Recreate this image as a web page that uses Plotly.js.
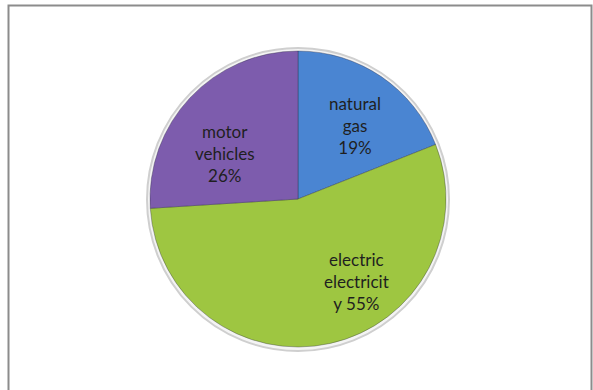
<!DOCTYPE html>
<html>
<head>
<meta charset="utf-8">
<script src="https://cdn.plot.ly/plotly-3.0.1.min.js"></script>
<style>
  html, body { margin: 0; padding: 0; background: #ffffff; }
  #chart { width: 593px; height: 390px; }
</style>
</head>
<body>
<div id="chart"></div>
<script>
// Energy use by source, share of total
const categories = ['natural gas', 'electric electricity', 'motor vehicles'];
const shares = [19, 55, 26];
// Slice label text as it wraps inside each slice (percentage appended from the data)
const labelLines = ['natural<br>gas<br>', 'electric<br>electricit<br>y ', 'motor<br>vehicles<br>'];
const sliceColors = ['#4a85d2', '#9ec641', '#7d5cad'];

const W = 593, H = 390;
const cx = 298, cy = 199, r = 148;

// label placement inside each slice: angular shift from the bisector (deg) and radial fraction
const labelShift = [3.4, -22.7, -11.0];
const labelDist = [0.63, 0.68, 0.58];

const total = shares.reduce((a, b) => a + b, 0);
const annotations = [];
let cum = 0;
shares.forEach((v, i) => {
  const mid = (cum + v / 2) / total * 360 + labelShift[i];
  cum += v;
  const a = mid * Math.PI / 180;
  const px = cx + labelDist[i] * r * Math.sin(a);
  const py = cy - labelDist[i] * r * Math.cos(a);
  annotations.push({
    xref: 'paper', yref: 'paper',
    x: px / W, y: 1 - py / H,
    xanchor: 'center', yanchor: 'middle',
    showarrow: false, align: 'center',
    text: labelLines[i] + Math.round(v / total * 100) + '%',
    font: { family: 'Lato, "Open Sans", sans-serif', size: 17, color: '#1f1f1f' }
  });
});

const trace = {
  type: 'pie',
  labels: categories,
  values: shares,
  sort: false,
  direction: 'clockwise',
  rotation: 0,
  textinfo: 'none',
  marker: { colors: sliceColors, line: { color: 'rgba(40,40,60,0.35)', width: 1 } },
  hoverinfo: 'label+percent',
  domain: {
    x: [(cx - r) / W, (cx + r) / W],
    y: [(H - cy - r) / H, (H - cy + r) / H]
  }
};

const layout = {
  width: W,
  height: H,
  margin: { l: 0, r: 0, t: 0, b: 0 },
  paper_bgcolor: '#ffffff',
  showlegend: false,
  annotations: annotations,
  shapes: [
    // chart frame
    {
      type: 'rect', xref: 'paper', yref: 'paper', layer: 'below',
      x0: 8.5 / W, x1: 591.5 / W, y0: -0.1, y1: 1 - 5.5 / H,
      line: { color: '#8c8c8c', width: 2 }
    },
    // soft rim around the pie
    {
      type: 'circle', xref: 'paper', yref: 'paper', layer: 'below',
      x0: (cx - r - 3) / W, x1: (cx + r + 3) / W,
      y0: (H - cy - r - 4) / H, y1: (H - cy + r + 3) / H,
      line: { color: '#cfcfcf', width: 2 }, fillcolor: '#f4f4f4'
    }
  ]
};

Plotly.newPlot('chart', [trace], layout, { displayModeBar: false, staticPlot: true });
</script>
</body>
</html>
